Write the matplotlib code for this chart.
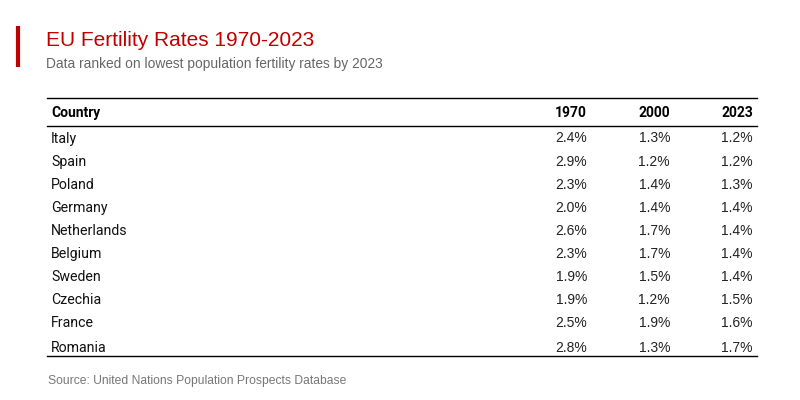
import matplotlib
matplotlib.use("Agg")
import matplotlib.pyplot as plt

title = "EU Fertility Rates 1970-2023"
subtitle = "Data ranked on lowest population fertility rates by 2023"
source = "Source: United Nations Population Prospects Database"

countries = ["Italy", "Spain", "Poland", "Germany", "Netherlands", "Belgium",
             "Sweden", "Czechia", "France", "Romania"]
years = ["1970", "2000", "2023"]
rate_1970 = [2.4, 2.9, 2.3, 2.0, 2.6, 2.3, 1.9, 1.9, 2.5, 2.8]
rate_2000 = [1.3, 1.2, 1.4, 1.4, 1.7, 1.7, 1.5, 1.2, 1.9, 1.3]
rate_2023 = [1.2, 1.2, 1.3, 1.4, 1.4, 1.4, 1.4, 1.5, 1.6, 1.7]
series = [rate_1970, rate_2000, rate_2023]

fig = plt.figure(figsize=(8, 4), dpi=100)
ax = fig.add_axes([0, 0, 1, 1])
ax.set_xlim(0, 800)
ax.set_ylim(400, 0)
ax.axis("off")

red = "#c00000"
ax.plot([18, 18], [26, 67], color=red, lw=3, solid_capstyle="butt")
ax.text(46, 41, title, color=red, fontsize=15, family="Liberation Sans", va="center")
ax.text(46, 64, subtitle, color="#666666", fontsize=9.9, family="Liberation Sans", va="center")

left, right = 47, 757
ax.plot([left, right], [98, 98], color="black", lw=1)
ax.plot([left, right], [126, 126], color="black", lw=1)
ax.plot([left, right], [356, 356], color="black", lw=1)

col_right = [587, 670, 753]
ax.text(51, 113, "Country", fontsize=10, fontweight="bold", family="Roboto", va="center")
for x, y in zip(col_right, years):
    ax.text(x, 113, y, fontsize=10, fontweight="bold", family="Roboto", va="center", ha="right")

row_y0, row_h = 138.5, 23.1
for i, c in enumerate(countries):
    y = row_y0 + i * row_h + (1.5 if i == len(countries) - 1 else 0)
    ax.text(51, y, c, fontsize=10.2, family="Roboto", va="center", color="#111111")
    for x, s in zip(col_right, series):
        ax.text(x, y, f"{s[i]:.1f}%", fontsize=10, family="Liberation Sans",
                va="center", ha="right", color="#222222")

ax.text(48, 381, source, fontsize=8.7, family="Liberation Sans", color="#777777", va="center")

fig.savefig("out.png", dpi=100)
